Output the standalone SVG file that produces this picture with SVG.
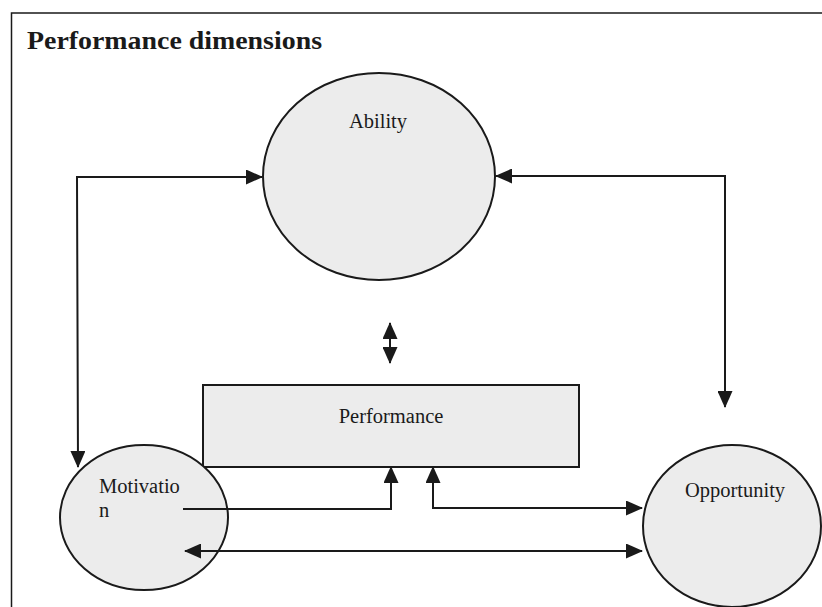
<svg xmlns="http://www.w3.org/2000/svg" width="822" height="607" viewBox="0 0 822 607">
  <style>
    .shape { fill: #ececec; stroke: #1a1a1a; stroke-width: 2; }
    .lbl { font-family: "Liberation Serif", "Times New Roman", serif; font-size: 20.5px; fill: #1a1a1a; }
    .title { font-family: "Liberation Serif", "Times New Roman", serif; font-size: 25px; font-weight: bold; fill: #1a1a1a; }
    .conn { fill: none; stroke: #1a1a1a; stroke-width: 2; }
    .border { fill: none; stroke: #1a1a1a; stroke-width: 1.5; }
  </style>
  <defs>
    <marker id="ah" markerUnits="userSpaceOnUse" markerWidth="17" markerHeight="15" refX="16" refY="7.5" orient="auto-start-reverse">
      <path d="M0,0 L17,7.5 L0,15 Z" fill="#1a1a1a"/>
    </marker>
  </defs>
  <rect x="0" y="0" width="822" height="607" fill="#ffffff"/>
  <g id="frame">
    <path class="border" d="M11.5,607 L11.5,13 L822,13"/>
    <text class="title" x="27" y="49" textLength="295" lengthAdjust="spacingAndGlyphs">Performance dimensions</text>
  </g>
  <g id="ability">
    <ellipse class="shape" cx="379" cy="176.5" rx="116" ry="103.5"/>
    <text class="lbl" x="378" y="128" text-anchor="middle">Ability</text>
  </g>
  <g id="performance">
    <rect class="shape" x="203" y="385" width="376" height="82"/>
    <text class="lbl" x="391" y="423" text-anchor="middle">Performance</text>
  </g>
  <g id="motivation">
    <ellipse class="shape" cx="144" cy="517.5" rx="84" ry="72.5"/>
    <text class="lbl" x="99" y="493">Motivatio</text>
    <text class="lbl" x="99" y="517">n</text>
  </g>
  <g id="opportunity">
    <ellipse class="shape" cx="732" cy="526" rx="89" ry="81"/>
    <text class="lbl" x="735" y="497" text-anchor="middle">Opportunity</text>
  </g>
  <g id="connectors">
    <path class="conn" d="M78,467 L77,177 L262,177" marker-start="url(#ah)" marker-end="url(#ah)"/>
    <path class="conn" d="M496,176 L725,176 L725,407" marker-start="url(#ah)" marker-end="url(#ah)"/>
    <path class="conn" d="M390,323 L390,363" marker-start="url(#ah)" marker-end="url(#ah)"/>
    <path class="conn" d="M183,509 L391,509 L391,467" marker-end="url(#ah)"/>
    <path class="conn" d="M433,467 L433,508 L642,508" marker-start="url(#ah)" marker-end="url(#ah)"/>
    <path class="conn" d="M185,551 L642,551" marker-start="url(#ah)" marker-end="url(#ah)"/>
  </g>
</svg>
